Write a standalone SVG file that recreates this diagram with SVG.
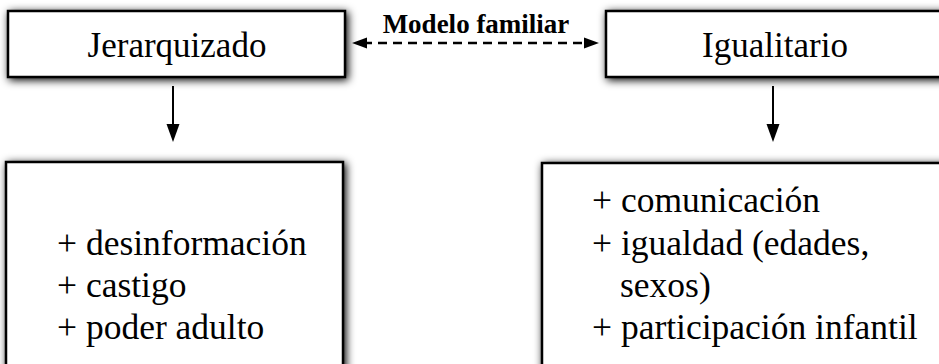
<svg xmlns="http://www.w3.org/2000/svg" width="939" height="364" viewBox="0 0 939 364">
  <defs>
    <filter id="shadow" x="-10%" y="-30%" width="120%" height="160%">
      <feDropShadow dx="2" dy="2" stdDeviation="4" flood-color="#000" flood-opacity="1"/>
    </filter>
    <marker id="arrowV" markerUnits="userSpaceOnUse" markerWidth="18" markerHeight="14" refX="8" refY="7" orient="auto">
      <path d="M0,0.5 L18,7 L0,13.5 z" fill="#000"/>
    </marker>
    <marker id="arrowD" markerUnits="userSpaceOnUse" markerWidth="15" markerHeight="12" refX="4" refY="6" orient="auto-start-reverse">
      <path d="M0,0.5 L15,6 L0,11.5 z" fill="#000"/>
    </marker>
  </defs>
  <style>
    .box { fill: #fff; stroke: #000; stroke-width: 2.5; filter: url(#shadow); }
    .title { font-family: "Liberation Serif", "Times New Roman", serif; font-size: 35px; fill: #000; }
    .item { font-family: "Liberation Serif", "Times New Roman", serif; font-size: 35.5px; fill: #000; }
    .label { font-family: "Liberation Serif", "Times New Roman", serif; font-size: 27px; font-weight: bold; fill: #000; }
    .conn { stroke: #000; stroke-width: 2; fill: none; }
    .dash { stroke-width: 2.5; stroke-dasharray: 9 6; }
  </style>

  <g id="node-jerarquizado">
    <rect class="box" x="8" y="11" width="337" height="66"/>
    <text class="title" x="177" y="57" text-anchor="middle">Jerarquizado</text>
  </g>

  <g id="node-igualitario">
    <rect class="box" x="606" y="11" width="345" height="66"/>
    <text class="title" x="775" y="57" text-anchor="middle">Igualitario</text>
  </g>

  <g id="node-jerarquizado-rasgos">
    <rect class="box" x="6" y="162" width="337" height="220"/>
    <text class="item" x="57" y="255">+ desinformación</text>
    <text class="item" x="57" y="297">+ castigo</text>
    <text class="item" x="57" y="339">+ poder adulto</text>
  </g>

  <g id="node-igualitario-rasgos">
    <rect class="box" x="542" y="163" width="420" height="220"/>
    <text class="item" x="592" y="212">+ comunicación</text>
    <text class="item" x="592" y="255">+ igualdad (edades,</text>
    <text class="item" x="620" y="297">sexos)</text>
    <text class="item" x="592" y="339">+ participación infantil</text>
  </g>

  <g id="connectors">
    <line class="conn" x1="173" y1="86" x2="173" y2="132" marker-end="url(#arrowV)"/>
    <line class="conn" x1="773" y1="86" x2="773" y2="132" marker-end="url(#arrowV)"/>
    <line class="conn dash" x1="363" y1="43" x2="588" y2="43" marker-start="url(#arrowD)" marker-end="url(#arrowD)"/>
    <text class="label" x="476" y="33" text-anchor="middle">Modelo familiar</text>
  </g>
</svg>
